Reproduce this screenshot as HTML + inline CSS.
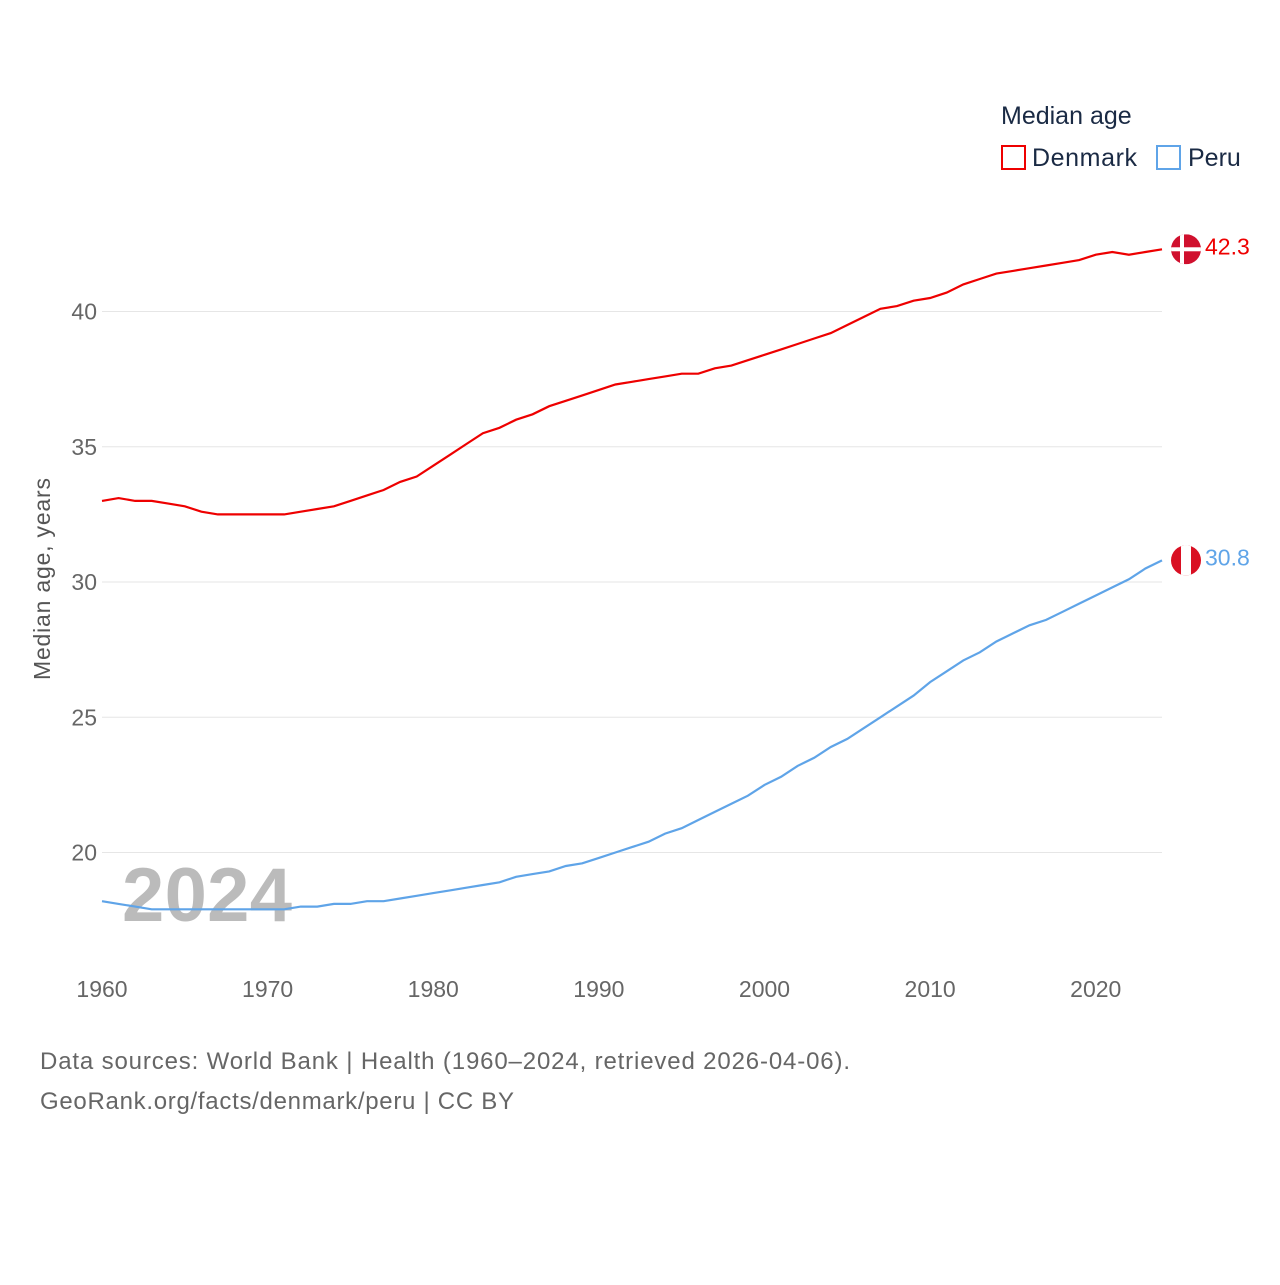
<!DOCTYPE html>
<html><head><meta charset="utf-8"><style>
body{margin:0;background:#fff;font-family:"Liberation Sans",sans-serif}
svg text{font-family:"Liberation Sans",sans-serif}
</style></head><body>
<svg id="c" width="1280" height="1280" viewBox="0 0 1280 1280">
<text x="1001" y="124" font-size="25" fill="#1a2a44">Median age</text>
<g><rect x="1002" y="146" width="23" height="23" fill="none" stroke="#e00" stroke-width="2"/><text x="1032" y="166" font-size="25" fill="#1a2a44" textLength="105">Denmark</text></g>
<g><rect x="1157" y="146" width="23" height="23" fill="none" stroke="#5fa4e8" stroke-width="2"/><text x="1188" y="166" font-size="25" fill="#1a2a44">Peru</text></g>
<g id="grid"></g>
<g id="yt"></g>
<g id="xt"></g>
<text transform="translate(50,579) rotate(-90)" text-anchor="middle" font-size="23" fill="#555" textLength="202">Median age, years</text>
<text x="122" y="921" font-size="76" font-weight="bold" fill="#bbb" textLength="170">2024</text>
<g id="lines"></g>
<text x="40" y="1069" font-size="24" fill="#666" textLength="810">Data sources: World Bank | Health (1960–2024, retrieved 2026-04-06).</text>
<text x="40" y="1109" font-size="24" fill="#666" textLength="474">GeoRank.org/facts/denmark/peru | CC BY</text>
</svg>
<script>
const years=[];for(let y=1960;y<=2024;y++)years.push(y);
const denmark=[33.0,33.1,33.0,33.0,32.9,32.8,32.6,32.5,32.5,32.5,32.5,32.5,32.6,32.7,32.8,33.0,33.2,33.4,33.7,33.9,34.3,34.7,35.1,35.5,35.7,36.0,36.2,36.5,36.7,36.9,37.1,37.3,37.4,37.5,37.6,37.7,37.7,37.9,38.0,38.2,38.4,38.6,38.8,39.0,39.2,39.5,39.8,40.1,40.2,40.4,40.5,40.7,41.0,41.2,41.4,41.5,41.6,41.7,41.8,41.9,42.1,42.2,42.1,42.2,42.3];
const peru=[18.2,18.1,18.0,17.9,17.9,17.9,17.9,17.9,17.9,17.9,17.9,17.9,18.0,18.0,18.1,18.1,18.2,18.2,18.3,18.4,18.5,18.6,18.7,18.8,18.9,19.1,19.2,19.3,19.5,19.6,19.8,20.0,20.2,20.4,20.7,20.9,21.2,21.5,21.8,22.1,22.5,22.8,23.2,23.5,23.9,24.2,24.6,25.0,25.4,25.8,26.3,26.7,27.1,27.4,27.8,28.1,28.4,28.6,28.9,29.2,29.5,29.8,30.1,30.5,30.8];
const yTicks=[20,25,30,35,40];
const xTicks=[1960,1970,1980,1990,2000,2010,2020];
const X=y=>102+(y-1960)*(1162-102)/64;
const Y=v=>582-(v-30)*27.05;
const NS='http://www.w3.org/2000/svg';
function mk(t,a,p){const e=document.createElementNS(NS,t);for(const k in a)e.setAttribute(k,a[k]);p.appendChild(e);return e;}
const grid=document.getElementById('grid'),yt=document.getElementById('yt'),xt=document.getElementById('xt'),lines=document.getElementById('lines');
yTicks.forEach(v=>{
 const l=mk('line',{x1:102,x2:1162,y1:Y(v),y2:Y(v),stroke:'#e6e6e6','stroke-width':1},grid);
 
 
 const t=mk('text',{x:97,y:Y(v)+8,'text-anchor':'end','font-size':23,fill:'#666'},yt);
 t.textContent=v;
 
 
});
xTicks.forEach(v=>{
 const t=mk('text',{x:X(v),y:997,'text-anchor':'middle','font-size':23,fill:'#666'},xt);
 t.textContent=v;
 
 
});
function series(vals,color,name){
 const p=mk('path',{d:vals.map((v,i)=>(i?'L':'M')+X(years[i]).toFixed(1)+','+Y(v).toFixed(1)).join(''),fill:'none',stroke:color,'stroke-width':2.2},lines);
 
 
 const last=vals[vals.length-1],cy=Y(last),cx=1186;
 const g=mk('g',{},lines);
 
 
 const cp='clip-'+name;
 const cl=mk('clipPath',{id:cp},g);mk('circle',{cx:cx,cy:cy,r:15},cl);
 const gg=mk('g',{'clip-path':'url(#'+cp+')'},g);
 if(name==='denmark'){
  mk('rect',{x:cx-15,y:cy-15,width:30,height:30,fill:'#d0102e'},gg);
  mk('rect',{x:cx-6,y:cy-15,width:4,height:30,fill:'#fff'},gg);
  mk('rect',{x:cx-15,y:cy-2,width:30,height:4,fill:'#fff'},gg);
 }else{
  mk('rect',{x:cx-15,y:cy-15,width:30,height:30,fill:'#d91023'},gg);
  mk('rect',{x:cx-5,y:cy-15,width:10,height:30,fill:'#fff'},gg);
 }
 const t=mk('text',{x:1205,y:cy+5,'font-size':23,fill:color},lines);
 t.textContent=last.toFixed(1);
 
 
}
series(denmark,'#ee0000','denmark');
series(peru,'#5fa4e8','peru');
</script>
</body></html>
